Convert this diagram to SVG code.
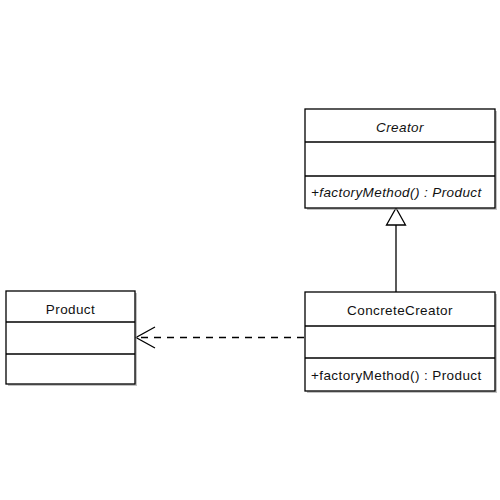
<svg xmlns="http://www.w3.org/2000/svg" width="500" height="500" viewBox="0 0 500 500">
<style>
.box{fill:#fff;stroke:#000;stroke-width:1.3}
.sh{fill:#999;opacity:0.6}
.div{stroke:#000;stroke-width:1.3}
text{font-family:"Liberation Sans",Arial,sans-serif;font-size:13.5px;letter-spacing:0.4px;fill:#111}
.c{text-anchor:middle}
.i{font-style:italic}
.conn{fill:none;stroke:#000;stroke-width:1.3}
</style>
<rect width="500" height="500" fill="#fff"/>
<g id="connectors">
<path class="conn" d="M396 292 V225"/>
<path d="M396 208 L386.5 225 H405.5 Z" fill="#fff" stroke="#000" stroke-width="1.3"/>
<path class="conn" d="M304 337.5 H137" stroke-dasharray="7 6"/>
<path class="conn" d="M155 327 L136 337.5 L155 348"/>
</g>
<g id="Creator">
<rect class="sh" x="307" y="111" width="190" height="99"/>
<rect class="box" x="305" y="109" width="190" height="99"/>
<line class="div" x1="305" y1="142" x2="495" y2="142"/>
<line class="div" x1="305" y1="176" x2="495" y2="176"/>
<text class="c i" x="400" y="132">Creator</text>
<text class="i" x="311" y="197">+factoryMethod() : Product</text>
</g>
<g id="ConcreteCreator">
<rect class="sh" x="307" y="294" width="190" height="99"/>
<rect class="box" x="305" y="292" width="190" height="99"/>
<line class="div" x1="305" y1="326" x2="495" y2="326"/>
<line class="div" x1="305" y1="358" x2="495" y2="358"/>
<text class="c" x="400" y="315">ConcreteCreator</text>
<text x="311" y="380">+factoryMethod() : Product</text>
</g>
<g id="Product">
<rect class="sh" x="8" y="293" width="129" height="93"/>
<rect class="box" x="6" y="291" width="129" height="93"/>
<line class="div" x1="6" y1="322" x2="135" y2="322"/>
<line class="div" x1="6" y1="354" x2="135" y2="354"/>
<text class="c" x="70.5" y="314">Product</text>
</g>
</svg>
